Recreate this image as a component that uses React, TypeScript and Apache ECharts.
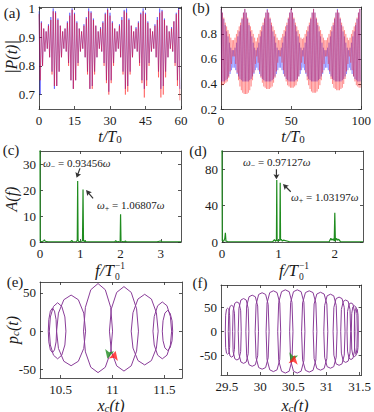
import React, { useEffect, useRef } from "react";
import * as echarts from "echarts";

const SERIF = "Liberation Serif";
const INK = "#1a1a1a";
const AXIS_COLOR = "#2a2a2a";

// ---------- (a) |P(t)| : per-cycle maxima / minima, t = 0..59 T0 ----------
const aHiRed = [
  0.98, 0.95, 0.93, 0.92, 0.94, 0.96, 0.99, 0.985, 0.96, 0.94, 0.92, 0.93, 0.95, 0.975, 0.995,
  0.98, 0.95, 0.93, 0.92, 0.94, 0.965, 0.99, 0.985, 0.96, 0.94, 0.92, 0.93, 0.95, 0.98, 0.995,
  0.975, 0.95, 0.93, 0.92, 0.94, 0.96, 0.99, 0.985, 0.96, 0.94, 0.92, 0.93, 0.95, 0.98, 0.99,
  0.98, 0.95, 0.93, 0.92, 0.94, 0.96, 0.985, 0.99, 0.96, 0.94, 0.92, 0.93, 0.955, 0.98, 0.995,
];
const aLoRed = [
  0.75, 0.8, 0.85, 0.86, 0.83, 0.77, 0.73, 0.73, 0.78, 0.83, 0.86, 0.85, 0.8, 0.75, 0.72,
  0.75, 0.8, 0.85, 0.86, 0.83, 0.77, 0.72, 0.72, 0.77, 0.83, 0.86, 0.85, 0.8, 0.74, 0.7,
  0.74, 0.8, 0.85, 0.86, 0.83, 0.77, 0.7, 0.71, 0.77, 0.83, 0.86, 0.85, 0.8, 0.74, 0.69,
  0.73, 0.8, 0.85, 0.86, 0.83, 0.76, 0.69, 0.7, 0.76, 0.83, 0.86, 0.85, 0.8, 0.73, 0.68,
];
const aHiBlue = [
  0.99, 0.955, 0.93, 0.92, 0.945, 0.97, 1.0, 0.99, 0.965, 0.94, 0.92, 0.93, 0.955, 0.985, 1.0,
  0.985, 0.955, 0.93, 0.92, 0.945, 0.97, 1.0, 0.99, 0.965, 0.94, 0.92, 0.935, 0.955, 0.985, 1.0,
  0.985, 0.955, 0.93, 0.92, 0.945, 0.97, 0.995, 1.0, 0.965, 0.94, 0.92, 0.935, 0.955, 0.985, 1.0,
  0.985, 0.955, 0.93, 0.92, 0.945, 0.97, 1.0, 0.995, 0.965, 0.94, 0.92, 0.935, 0.955, 0.985, 1.0,
];
const aLoBlue = [
  0.7, 0.8, 0.85, 0.86, 0.83, 0.78, 0.72, 0.73, 0.78, 0.83, 0.86, 0.85, 0.81, 0.75, 0.72,
  0.75, 0.81, 0.85, 0.86, 0.83, 0.78, 0.72, 0.73, 0.78, 0.83, 0.86, 0.85, 0.81, 0.75, 0.71,
  0.75, 0.81, 0.85, 0.86, 0.83, 0.78, 0.72, 0.73, 0.78, 0.83, 0.86, 0.85, 0.81, 0.75, 0.72,
  0.75, 0.81, 0.85, 0.86, 0.83, 0.78, 0.72, 0.73, 0.78, 0.83, 0.86, 0.85, 0.81, 0.75, 0.72,
];

// ---------- (b) |P(t)| : per-cycle maxima / minima, t = 0..99 T0 ----------
const bHiRed = [
  1.0, 0.97, 0.93, 0.89, 0.86, 0.83, 0.8, 0.77, 0.75, 0.75,
  0.77, 0.8, 0.83, 0.86, 0.89, 0.93, 0.97, 1.0, 0.97, 0.93,
  0.89, 0.86, 0.83, 0.8, 0.77, 0.74, 0.77, 0.8, 0.83, 0.86,
  0.89, 0.93, 0.97, 0.99, 0.97, 0.93, 0.89, 0.86, 0.83, 0.8,
  0.77, 0.75, 0.75, 0.77, 0.8, 0.83, 0.86, 0.89, 0.93, 0.97,
  1.0, 0.97, 0.93, 0.89, 0.86, 0.83, 0.8, 0.77, 0.76, 0.77,
  0.8, 0.83, 0.86, 0.89, 0.93, 0.97, 1.0, 0.97, 0.93, 0.89,
  0.86, 0.83, 0.8, 0.77, 0.75, 0.75, 0.77, 0.8, 0.83, 0.86,
  0.89, 0.93, 0.97, 0.99, 0.97, 0.93, 0.89, 0.86, 0.83, 0.8,
  0.77, 0.75, 0.77, 0.8, 0.83, 0.86, 0.89, 0.93, 0.97, 1.0,
];
const bLoRed = [
  0.39, 0.39, 0.4, 0.41, 0.42, 0.45, 0.5, 0.56, 0.62, 0.62,
  0.56, 0.49, 0.43, 0.38, 0.35, 0.33, 0.32, 0.32, 0.32, 0.33,
  0.35, 0.38, 0.43, 0.49, 0.56, 0.62, 0.57, 0.5, 0.45, 0.41,
  0.38, 0.37, 0.36, 0.36, 0.36, 0.37, 0.38, 0.41, 0.45, 0.5,
  0.57, 0.62, 0.62, 0.57, 0.51, 0.46, 0.42, 0.39, 0.38, 0.37,
  0.37, 0.37, 0.38, 0.39, 0.42, 0.46, 0.51, 0.57, 0.62, 0.56,
  0.49, 0.43, 0.39, 0.36, 0.34, 0.33, 0.33, 0.33, 0.34, 0.36,
  0.39, 0.43, 0.49, 0.56, 0.62, 0.62, 0.56, 0.5, 0.44, 0.4,
  0.37, 0.36, 0.35, 0.35, 0.35, 0.36, 0.37, 0.4, 0.44, 0.5,
  0.56, 0.62, 0.57, 0.51, 0.46, 0.42, 0.39, 0.38, 0.37, 0.37,
];
const bHiBlue = [
  1.0, 0.97, 0.92, 0.87, 0.82, 0.78, 0.73, 0.69, 0.67, 0.67,
  0.69, 0.73, 0.78, 0.82, 0.87, 0.92, 0.97, 1.0, 0.97, 0.92,
  0.87, 0.82, 0.78, 0.73, 0.69, 0.67, 0.69, 0.73, 0.78, 0.82,
  0.87, 0.92, 0.97, 1.0, 0.97, 0.92, 0.87, 0.82, 0.78, 0.73,
  0.69, 0.67, 0.67, 0.69, 0.73, 0.78, 0.82, 0.87, 0.92, 0.97,
  1.0, 0.97, 0.92, 0.87, 0.82, 0.78, 0.73, 0.69, 0.67, 0.69,
  0.73, 0.78, 0.82, 0.87, 0.92, 0.97, 1.0, 0.97, 0.92, 0.87,
  0.82, 0.78, 0.73, 0.69, 0.67, 0.67, 0.69, 0.73, 0.78, 0.82,
  0.87, 0.92, 0.97, 1.0, 0.97, 0.92, 0.87, 0.82, 0.78, 0.73,
  0.69, 0.67, 0.69, 0.73, 0.78, 0.82, 0.87, 0.92, 0.97, 1.0,
];
const bLoBlue = [
  0.42, 0.42, 0.42, 0.43, 0.44, 0.46, 0.48, 0.51, 0.53, 0.53,
  0.51, 0.48, 0.46, 0.44, 0.43, 0.42, 0.42, 0.42, 0.42, 0.42,
  0.43, 0.44, 0.46, 0.48, 0.51, 0.53, 0.51, 0.48, 0.46, 0.44,
  0.43, 0.42, 0.42, 0.42, 0.42, 0.42, 0.43, 0.44, 0.46, 0.48,
  0.51, 0.53, 0.53, 0.51, 0.48, 0.46, 0.44, 0.43, 0.42, 0.42,
  0.42, 0.42, 0.42, 0.43, 0.44, 0.46, 0.48, 0.51, 0.53, 0.51,
  0.48, 0.46, 0.44, 0.43, 0.42, 0.42, 0.42, 0.42, 0.42, 0.43,
  0.44, 0.46, 0.48, 0.51, 0.53, 0.53, 0.51, 0.48, 0.46, 0.44,
  0.43, 0.42, 0.42, 0.42, 0.42, 0.42, 0.43, 0.44, 0.46, 0.48,
  0.51, 0.53, 0.51, 0.48, 0.46, 0.44, 0.43, 0.42, 0.42, 0.42,
];

// ---------- (c) spectrum A(f) ----------
const cFreq = [0, 0.005, 0.05, 0.09, 0.11, 0.13, 0.2, 0.76, 0.79, 0.81, 0.9, 0.925, 0.935, 0.945, 0.96, 1.0, 1.055, 1.068, 1.08, 1.11, 1.12, 1.13, 1.2, 1.86, 1.88, 1.9, 1.99, 2.0, 2.01, 2.1, 2.12, 2.14, 2.9, 2.97, 3.0, 3.03, 3.5];
const cAmp = [40, 0.3, 0.2, 0.4, 0.8, 0.3, 0.1, 0.1, 0.6, 0.1, 0.2, 0.5, 23.5, 0.5, 0.2, 0.2, 0.4, 20.2, 0.4, 0.2, 0.7, 0.2, 0.1, 0.1, 0.5, 0.1, 0.3, 10.7, 0.3, 0.1, 0.4, 0.1, 0.1, 0.3, 0.35, 0.1, 0.1];

// ---------- (d) spectrum A(f) ----------
const dFreq = [0, 0.005, 0.03, 0.05, 0.06, 0.07, 0.1, 0.2, 0.9, 0.93, 0.95, 0.965, 0.971, 0.977, 0.99, 1.0, 1.025, 1.032, 1.038, 1.05, 1.07, 1.09, 1.2, 1.9, 1.93, 1.95, 1.97, 1.99, 2.0, 2.01, 2.03, 2.05, 2.07, 2.1, 2.5];
const dAmp = [110, 1.5, 0.8, 4, 10, 1, 0.5, 0.3, 0.3, 2.5, 0.8, 2, 68, 2, 0.8, 1.5, 2, 65, 2, 3, 1, 2, 0.3, 0.3, 4, 2, 3.5, 1, 32, 1, 4, 2, 3, 0.5, 0.3];

// ---------- (e) phase portrait: 8 loops x 12 vertices (bottom, then clockwise) ----------
const eX = [
  10.42, 10.4, 10.385, 10.38, 10.385, 10.4, 10.42, 10.44, 10.455, 10.46, 10.455, 10.44,
  10.47, 10.43, 10.4, 10.39, 10.4, 10.43, 10.47, 10.51, 10.54, 10.55, 10.54, 10.51,
  10.6, 10.53, 10.478, 10.46, 10.478, 10.53, 10.6, 10.67, 10.722, 10.74, 10.722, 10.67,
  10.86, 10.79, 10.738, 10.72, 10.738, 10.79, 10.86, 10.93, 10.982, 11.0, 10.982, 10.93,
  11.11, 11.04, 10.988, 10.97, 10.988, 11.04, 11.11, 11.18, 11.232, 11.25, 11.232, 11.18,
  11.31, 11.245, 11.197, 11.18, 11.197, 11.245, 11.31, 11.375, 11.423, 11.44, 11.423, 11.375,
  11.48, 11.435, 11.402, 11.39, 11.402, 11.435, 11.48, 11.525, 11.558, 11.57, 11.558, 11.525,
  11.53, 11.505, 11.487, 11.48, 11.487, 11.505, 11.53, 11.555, 11.574, 11.58, 11.574, 11.555,
];
const eP = [
  -28, -24.4, -14, 0, 15, 26.1, 30, 26.1, 15, 0, -14, -24.4,
  -36, -31.3, -18, 0, 18.5, 32.2, 37, 32.2, 18.5, 0, -18, -31.3,
  -45, -39.2, -22.5, 0, 23.5, 40.9, 47, 40.9, 23.5, 0, -22.5, -39.2,
  -54, -47, -27, 0, 31, 53.9, 62, 53.9, 31, 0, -27, -47,
  -52, -45.2, -26, 0, 29, 50.5, 58, 50.5, 29, 0, -26, -45.2,
  -44, -38.3, -22, 0, 24, 41.8, 48, 41.8, 24, 0, -22, -38.3,
  -36, -31.3, -18, 0, 19, 33.1, 38, 33.1, 19, 0, -18, -31.3,
  -25, -21.8, -12.5, 0, 13.5, 23.5, 27, 23.5, 13.5, 0, -12.5, -21.8,
];

// ---------- (f) phase portrait: 17 loops x 12 vertices (bottom, then clockwise) ----------
const fX = [
  29.51, 29.493, 29.48, 29.475, 29.48, 29.493, 29.51, 29.528, 29.54, 29.545, 29.54, 29.528,
  29.57, 29.545, 29.527, 29.52, 29.527, 29.545, 29.57, 29.595, 29.613, 29.62, 29.613, 29.595,
  29.65, 29.618, 29.593, 29.585, 29.593, 29.618, 29.65, 29.683, 29.707, 29.715, 29.707, 29.683,
  29.75, 29.71, 29.68, 29.67, 29.68, 29.71, 29.75, 29.79, 29.82, 29.83, 29.82, 29.79,
  29.88, 29.833, 29.797, 29.785, 29.797, 29.833, 29.88, 29.928, 29.963, 29.975, 29.963, 29.928,
  30.03, 29.978, 29.939, 29.925, 29.939, 29.978, 30.03, 30.083, 30.121, 30.135, 30.121, 30.083,
  30.2, 30.145, 30.104, 30.09, 30.104, 30.145, 30.2, 30.255, 30.296, 30.31, 30.296, 30.255,
  30.38, 30.323, 30.28, 30.265, 30.28, 30.323, 30.38, 30.438, 30.48, 30.495, 30.48, 30.438,
  30.56, 30.503, 30.46, 30.445, 30.46, 30.503, 30.56, 30.618, 30.66, 30.675, 30.66, 30.618,
  30.74, 30.683, 30.64, 30.625, 30.64, 30.683, 30.74, 30.798, 30.84, 30.855, 30.84, 30.798,
  30.91, 30.855, 30.814, 30.8, 30.814, 30.855, 30.91, 30.965, 31.006, 31.02, 31.006, 30.965,
  31.06, 31.01, 30.973, 30.96, 30.973, 31.01, 31.06, 31.11, 31.147, 31.16, 31.147, 31.11,
  31.19, 31.145, 31.112, 31.1, 31.112, 31.145, 31.19, 31.235, 31.268, 31.28, 31.268, 31.235,
  31.29, 31.253, 31.225, 31.215, 31.225, 31.253, 31.29, 31.328, 31.355, 31.365, 31.355, 31.328,
  31.37, 31.34, 31.318, 31.31, 31.318, 31.34, 31.37, 31.4, 31.422, 31.43, 31.422, 31.4,
  31.42, 31.398, 31.381, 31.375, 31.381, 31.398, 31.42, 31.443, 31.459, 31.465, 31.459, 31.443,
  31.45, 31.435, 31.424, 31.42, 31.424, 31.435, 31.45, 31.465, 31.476, 31.48, 31.476, 31.465,
];
const fP = [
  -47, -45, -33, 0, 33.6, 46, 48, 46, 33.6, 0, -33, -45,
  -53, -50.7, -37, 0, 37.8, 51.6, 54, 51.6, 37.8, 0, -37, -50.7,
  -59, -56.4, -41.3, 0, 42.7, 58.3, 61, 58.3, 42.7, 0, -41.3, -56.4,
  -66, -63.1, -46.2, 0, 47.6, 65, 68, 65, 47.6, 0, -46.2, -63.1,
  -72, -68.8, -50.4, 0, 52.5, 71.7, 75, 71.7, 52.5, 0, -50.4, -68.8,
  -78, -74.6, -54.6, 0, 56, 76.5, 80, 76.5, 56, 0, -54.6, -74.6,
  -83, -79.3, -58.1, 0, 58.8, 80.3, 84, 80.3, 58.8, 0, -58.1, -79.3,
  -86, -82.2, -60.2, 0, 60.2, 82.2, 86, 82.2, 60.2, 0, -60.2, -82.2,
  -86, -82.2, -60.2, 0, 60.2, 82.2, 86, 82.2, 60.2, 0, -60.2, -82.2,
  -84, -80.3, -58.8, 0, 58.8, 80.3, 84, 80.3, 58.8, 0, -58.8, -80.3,
  -80, -76.5, -56, 0, 56.7, 77.4, 81, 77.4, 56.7, 0, -56, -76.5,
  -76, -72.7, -53.2, 0, 53.9, 73.6, 77, 73.6, 53.9, 0, -53.2, -72.7,
  -70, -66.9, -49, 0, 49.7, 67.9, 71, 67.9, 49.7, 0, -49, -66.9,
  -64, -61.2, -44.8, 0, 45.5, 62.1, 65, 62.1, 45.5, 0, -44.8, -61.2,
  -58, -55.4, -40.6, 0, 41.3, 56.4, 59, 56.4, 41.3, 0, -40.6, -55.4,
  -52, -49.7, -36.4, 0, 37.1, 50.7, 53, 50.7, 37.1, 0, -36.4, -49.7,
  -47, -45, -33, 0, 33.6, 46, 48, 46, 33.6, 0, -33, -45,
];

// start (green) / end (red) markers of the trajectories
const eStart = [10.95, -36];
const eEnd = [11.03, -26];
const fStart = [30.46, -64];
const fEnd = [30.52, -49];

// ---------- tick values ----------
const aXTicks = [0, 15, 30, 45, 60];
const aYTicks = [0.7, 0.8, 0.9, 1];
const bXTicks = [0, 50, 100];
const bYTicks = [0.2, 0.4, 0.6, 0.8];
const cXTicks = [0, 1, 2, 3];
const cYTicks = [0, 10, 20, 30];
const dXTicks = [0, 1, 2];
const dYTicks = [0, 40, 80];
const eXTicks = [10.5, 11, 11.5];
const eYTicks = [-50, 0, 50];
const fXTicks = [29.5, 30, 30.5, 31, 31.5];
const fYTicks = [-50, 0, 50];

function zigzag(hi: number[], lo: number[]) {
  const out: number[][] = [];
  hi.forEach((h, k) => {
    out.push([k, h]);
    out.push([k + 0.5, lo[k]]);
  });
  return out;
}
function pairs(xs: number[], ys: number[]) {
  return xs.map((x, i) => [x, ys[i]]);
}
// split the vertex lists into closed loops (12 vertices each)
function loops(xs: number[], ps: number[]) {
  const n = xs.length / 12;
  const out: number[][][] = [];
  for (let i = 0; i < n; i++) {
    const pts: number[][] = [];
    for (let j = 0; j <= 12; j++) {
      const k = 12 * i + (j % 12);
      pts.push([xs[k], ps[k]]);
    }
    out.push(pts);
  }
  return out;
}

function makeX(gi: number, min: number, max: number, ticks: number[], mirror: boolean) {
  return {
    type: "value",
    gridIndex: gi,
    position: mirror ? "top" : "bottom",
    min,
    max,
    axisLine: { show: true, onZero: false, lineStyle: { color: AXIS_COLOR, width: 0.8 } },
    axisTick: { show: true, inside: true, length: 3, customValues: ticks, lineStyle: { color: AXIS_COLOR, width: 0.8 } },
    axisLabel: { show: !mirror, customValues: ticks, margin: 5, fontFamily: SERIF, fontSize: 13, color: INK },
    splitLine: { show: false },
  };
}
function makeY(gi: number, min: number, max: number, ticks: number[], mirror: boolean) {
  return {
    type: "value",
    gridIndex: gi,
    position: mirror ? "right" : "left",
    min,
    max,
    axisLine: { show: true, onZero: false, lineStyle: { color: AXIS_COLOR, width: 0.8 } },
    axisTick: { show: true, inside: true, length: 3, customValues: ticks, lineStyle: { color: AXIS_COLOR, width: 0.8 } },
    axisLabel: { show: !mirror, customValues: ticks, margin: 4, fontFamily: SERIF, fontSize: 13, color: INK },
    splitLine: { show: false },
  };
}

const ARROW_PATH = "path://M5,0 L10,10 L6,8.5 L6,20 L4,20 L4,8.5 L0,10 Z";

function titleText(text: string, x: number, y: number, rot = 0) {
  return {
    type: "text",
    x,
    y,
    rotation: rot,
    style: {
      text,
      align: "center",
      verticalAlign: "middle",
      fontFamily: SERIF,
      rich: {
        i: { fontFamily: SERIF, fontStyle: "italic", fontSize: 16, lineHeight: 16, fill: INK },
        r: { fontFamily: SERIF, fontSize: 16, lineHeight: 16, fill: INK },
        s: { fontFamily: SERIF, fontSize: 11, lineHeight: 10, verticalAlign: "bottom", fill: INK },
        si: { fontFamily: SERIF, fontStyle: "italic", fontSize: 11, lineHeight: 10, verticalAlign: "bottom", fill: INK },
      },
    },
  };
}
function freqTitle(cx: number, cy: number) {
  return {
    type: "group",
    x: cx,
    y: cy,
    children: [
      { type: "text", x: -16, y: 0, style: { text: "f/T", fontFamily: SERIF, fontStyle: "italic", fontSize: 17, fill: INK, align: "left", verticalAlign: "middle" } },
      { type: "text", x: 4, y: -4.5, style: { text: "−1", fontFamily: SERIF, fontSize: 9.5, fill: INK, align: "left", verticalAlign: "middle" } },
      { type: "text", x: 4, y: 6.5, style: { text: "0", fontFamily: SERIF, fontSize: 9.5, fill: INK, align: "left", verticalAlign: "middle" } },
    ],
  };
}
function panelLabel(text: string, x: number, y: number) {
  return { type: "text", x, y, style: { text, fontFamily: SERIF, fontSize: 15, fill: INK, align: "center", verticalAlign: "middle" } };
}
function annot(sign: string, value: string, x: number, y: number) {
  return {
    type: "text",
    x,
    y,
    style: {
      text: `{i|ω}{s|${sign}}{r| = ${value}}{i|ω}`,
      align: "left",
      verticalAlign: "middle",
      rich: {
        i: { fontFamily: SERIF, fontStyle: "italic", fontSize: 11, lineHeight: 14, fill: INK },
        r: { fontFamily: SERIF, fontSize: 11, lineHeight: 14, fill: INK },
        s: { fontFamily: SERIF, fontSize: 8, lineHeight: 8, verticalAlign: "bottom", fill: INK },
      },
    },
  };
}

export default function App() {
  const ref = useRef<HTMLDivElement>(null);
  useEffect(() => {
    if (!ref.current) return;
    const chart = echarts.init(ref.current, null, { renderer: "svg" });

    const grids = [
      { left: 39, top: 7, width: 142, height: 102 },
      { left: 221, top: 7, width: 144, height: 102 },
      { left: 40, top: 151, width: 141, height: 91 },
      { left: 222, top: 151, width: 141, height: 91 },
      { left: 40, top: 282, width: 142, height: 96 },
      { left: 221, top: 285, width: 142, height: 90 },
    ];
    const xr = [
      [0, 60, aXTicks],
      [0, 100, bXTicks],
      [0, 3.5, cXTicks],
      [0, 2.5, dXTicks],
      [10.3, 11.67, eXTicks],
      [29.41, 31.53, fXTicks],
    ] as [number, number, number[]][];
    const yr = [
      [0.65, 1.005, aYTicks],
      [0.2, 1.015, bYTicks],
      [0, 35, cYTicks],
      [0, 100, dYTicks],
      [-61, 64, eYTicks],
      [-90, 96, fYTicks],
    ] as [number, number, number[]][];

    const xAxis: any[] = [];
    const yAxis: any[] = [];
    for (let i = 0; i < 6; i++) {
      xAxis.push(makeX(i, xr[i][0], xr[i][1], xr[i][2], false));
      xAxis.push(makeX(i, xr[i][0], xr[i][1], xr[i][2], true));
      yAxis.push(makeY(i, yr[i][0], yr[i][1], yr[i][2], false));
      yAxis.push(makeY(i, yr[i][0], yr[i][1], yr[i][2], true));
    }

    const osc = (gi: number, data: number[][], color: string, width: number) => ({
      type: "line",
      xAxisIndex: 2 * gi,
      yAxisIndex: 2 * gi,
      data,
      symbol: "none",
      silent: true,
      lineStyle: { color, width },
    });
    const green = "#1f8c1f";
    const purple = "#8a3d99";
    const spec = (gi: number, data: number[][]) => ({
      type: "line",
      xAxisIndex: 2 * gi,
      yAxisIndex: 2 * gi,
      data,
      symbol: "none",
      silent: true,
      lineStyle: { color: green, width: 1.2 },
    });
    const arrow = (gi: number, pt: number[], rot: number, size: number[], color: string, sym = ARROW_PATH) => ({
      type: "scatter",
      xAxisIndex: 2 * gi,
      yAxisIndex: 2 * gi,
      data: [pt],
      symbol: sym,
      symbolSize: size,
      symbolRotate: rot,
      silent: true,
      itemStyle: { color },
      z: 5,
    });
    const loopSeries = (gi: number, xs: number[], ps: number[]) =>
      loops(xs, ps).map((pts) => ({
        type: "line",
        xAxisIndex: 2 * gi,
        yAxisIndex: 2 * gi,
        data: pts,
        symbol: "none",
        silent: true,
        lineStyle: { color: purple, width: 1 },
      }));

    const series: any[] = [
      osc(0, zigzag(aHiBlue, aLoBlue), "rgba(0,0,255,0.5)", 0.8),
      osc(0, zigzag(aHiRed, aLoRed), "rgba(255,0,0,0.5)", 0.8),
      osc(1, zigzag(bHiBlue, bLoBlue), "rgba(0,0,255,0.45)", 0.6),
      osc(1, zigzag(bHiRed, bLoRed), "rgba(255,0,0,0.45)", 0.6),
      spec(2, pairs(cFreq, cAmp)),
      spec(3, pairs(dFreq, dAmp)),
      arrow(2, [0.95, 26.5], 160, [6, 10], "#000"),
      arrow(2, [1.23, 18.4], 40, [6, 11], "#000"),
      arrow(3, [0.965, 74.5], 180, [6, 10], "#000"),
      arrow(3, [1.15, 59.5], 45, [6, 11], "#000"),
      ...loopSeries(4, eX, eP),
      ...loopSeries(5, fX, fP),
      arrow(4, eStart, 165, [7, 9], "#1f8c1f", "arrow"),
      arrow(4, eEnd, -15, [7, 9], "#ff1a1a", "arrow"),
      arrow(5, fStart, 160, [7, 9], "#1f8c1f", "arrow"),
      arrow(5, fEnd, -10, [7, 9], "#ff1a1a", "arrow"),
    ];

    const graphic: any[] = [
      panelLabel("(a)", 12, 13),
      panelLabel("(b)", 201, 8),
      panelLabel("(c)", 11, 150),
      panelLabel("(d)", 198, 151),
      panelLabel("(e)", 15, 282),
      panelLabel("(f)", 200, 283),
      titleText("{i||P(t)|}", 11, 57, Math.PI / 2),
      titleText("{i|t/T}{s|0}", 110, 136),
      titleText("{i|t/T}{s|0}", 293, 136),
      titleText("{i|A(f)}", 11, 199, Math.PI / 2),
      freqTitle(111, 270),
      freqTitle(295, 270),
      titleText("{i|p}{si|c}{i|(t)}", 12, 330, Math.PI / 2),
      titleText("{i|x}{si|c}{i|(t)}", 111, 405),
      titleText("{i|x}{si|c}{i|(t)}", 295, 405),
      annot("−", "0.93456", 43, 163),
      annot("+", "1.06807", 97, 205),
      annot("−", "0.97127", 243, 162),
      annot("+", "1.03197", 291, 197),
    ];

    chart.setOption({
      animation: false,
      backgroundColor: "#ffffff",
      textStyle: { fontFamily: SERIF },
      grid: grids,
      xAxis,
      yAxis,
      series,
      graphic,
    });
    return () => chart.dispose();
  }, []);
  return <div ref={ref} style={{ position: "absolute", left: 0, top: 0, width: 374, height: 412 }} />;
}
